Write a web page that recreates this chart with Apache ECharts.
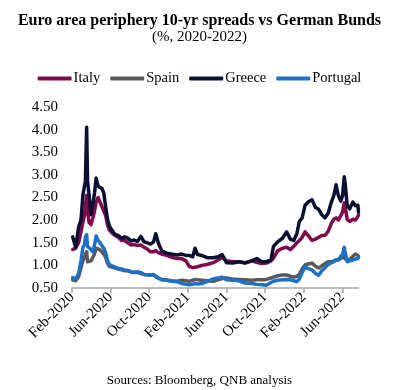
<!DOCTYPE html>
<html>
<head>
<meta charset="utf-8">
<script src="https://cdn.jsdelivr.net/npm/echarts@6/dist/echarts.min.js"></script>
<style>
html,body{margin:0;padding:0;background:#fff;}
#chart{width:399px;height:390px;}
</style>
</head>
<body>
<div id="chart"></div>
<script>
var dates = [
'2020-02-03','2020-02-12','2020-02-21','2020-02-28','2020-03-05','2020-03-10','2020-03-13','2020-03-17','2020-03-20','2020-03-25',
'2020-03-31','2020-04-06','2020-04-11','2020-04-16','2020-04-22','2020-04-28','2020-05-04','2020-05-10','2020-05-16','2020-05-22',
'2020-05-28','2020-06-05','2020-06-15','2020-06-25','2020-07-05','2020-07-15','2020-07-25','2020-08-05','2020-08-15','2020-08-25',
'2020-09-05','2020-09-15','2020-09-25','2020-10-05','2020-10-15','2020-10-22','2020-10-30','2020-11-10','2020-11-25','2020-12-10',
'2020-12-28','2021-01-12','2021-01-26','2021-02-05','2021-02-15','2021-02-22','2021-03-01','2021-03-15','2021-04-01','2021-04-20',
'2021-05-05','2021-05-18','2021-06-01','2021-06-20','2021-07-10','2021-07-30','2021-08-20','2021-09-05','2021-09-20','2021-10-05',
'2021-10-20','2021-10-28','2021-11-10','2021-11-25','2021-12-08','2021-12-20','2021-12-31','2022-01-10','2022-01-18','2022-01-27',
'2022-02-05','2022-02-14','2022-02-25','2022-03-08','2022-03-18','2022-03-28','2022-04-07','2022-04-17','2022-04-27','2022-05-05',
'2022-05-12','2022-05-19','2022-05-27','2022-06-02','2022-06-07','2022-06-10','2022-06-16','2022-06-24','2022-07-04','2022-07-12',
'2022-07-20','2022-07-22'
];
var italy = [
1.35,1.38,1.50,1.75,1.95,2.10,2.30,2.55,2.20,1.95,
1.90,2.05,2.20,2.40,2.50,2.40,2.30,2.30,2.10,1.90,
1.78,1.72,1.66,1.62,1.55,1.55,1.50,1.45,1.46,1.44,
1.45,1.40,1.36,1.30,1.30,1.33,1.28,1.25,1.22,1.18,
1.15,1.15,1.10,0.98,0.95,0.96,0.97,1.00,1.02,1.06,
1.12,1.18,1.10,1.08,1.08,1.06,1.10,1.07,1.04,1.05,
1.10,1.16,1.32,1.38,1.40,1.35,1.42,1.50,1.55,1.62,
1.74,1.66,1.55,1.58,1.62,1.66,1.66,1.75,1.93,2.02,
2.05,2.00,2.10,2.18,2.38,2.30,2.02,1.97,2.02,2.00,
2.08,2.12
];
var spain = [
0.68,0.66,0.75,0.95,1.10,1.10,1.25,1.30,1.08,1.05,
1.10,1.10,1.25,1.38,1.35,1.35,1.30,1.25,1.18,1.05,
0.98,0.96,0.94,0.92,0.90,0.88,0.88,0.85,0.84,0.84,
0.82,0.80,0.79,0.79,0.79,0.76,0.72,0.69,0.68,0.66,
0.65,0.67,0.66,0.65,0.67,0.69,0.68,0.67,0.66,0.65,
0.68,0.71,0.72,0.70,0.69,0.68,0.67,0.68,0.68,0.69,
0.72,0.74,0.77,0.79,0.79,0.76,0.74,0.76,0.80,0.92,
1.01,1.03,1.05,0.98,0.94,0.99,1.04,1.08,1.08,1.10,
1.12,1.12,1.15,1.18,1.20,1.14,1.12,1.13,1.20,1.25,
1.22,1.20
];
var greece = [
1.63,1.40,1.85,2.00,2.55,2.75,2.85,4.05,2.85,2.55,
2.12,2.35,2.60,2.93,2.75,2.78,2.70,2.60,2.30,2.02,
1.87,1.78,1.68,1.66,1.60,1.63,1.60,1.54,1.56,1.53,
1.64,1.52,1.50,1.47,1.52,1.70,1.50,1.32,1.27,1.25,
1.23,1.25,1.22,1.22,1.19,1.38,1.24,1.22,1.17,1.17,
1.19,1.24,1.06,1.05,1.08,1.05,1.10,1.15,1.08,1.08,
1.12,1.42,1.52,1.60,1.74,1.58,1.55,1.70,1.97,2.05,
2.33,2.40,2.45,2.28,2.24,2.12,2.05,2.15,2.40,2.55,
2.78,2.55,2.42,2.55,2.96,2.80,2.33,2.25,2.40,2.32,
2.33,2.18
];
var portugal = [
0.73,0.70,0.82,1.10,1.40,1.45,1.62,1.68,1.42,1.38,
1.35,1.30,1.45,1.65,1.55,1.50,1.48,1.38,1.28,1.10,
1.02,0.99,0.96,0.93,0.92,0.90,0.89,0.86,0.85,0.86,
0.84,0.80,0.79,0.79,0.80,0.75,0.72,0.68,0.67,0.65,
0.64,0.60,0.58,0.57,0.58,0.60,0.59,0.60,0.64,0.70,
0.72,0.74,0.68,0.67,0.66,0.61,0.60,0.58,0.57,0.56,
0.62,0.65,0.67,0.68,0.69,0.68,0.66,0.64,0.70,0.84,
0.96,0.93,0.90,0.82,0.78,0.88,0.95,1.02,1.06,1.08,
1.12,1.12,1.20,1.25,1.40,1.28,1.08,1.10,1.12,1.14,
1.15,1.18
];
var seriesNames = ['Italy','Spain','Greece','Portugal'];
var seriesColors = ['#7E0C4D','#595959','#0B1033','#1E6FC6'];
var monthNames = ['Jan','Feb','Mar','Apr','May','Jun','Jul','Aug','Sep','Oct','Nov','Dec'];
var yMin = 0.5, yMax = 4.5, yStep = 0.5;
var xTickMonths = [0,4,8,12,16,20,24,28];
var xEndDate = '2022-07-22';

// months since 1 Feb 2020 (fractional)
function monthPos(s){
  var p = s.split('-').map(Number);
  var dim = new Date(p[0], p[1], 0).getDate();
  return (p[0]-2020)*12 + (p[1]-1) - 1 + (p[2]-1)/dim;
}
function monthLabel(v){
  var idx = Math.round(v) + 1; // months since Jan 2020
  var y = 2020 + Math.floor(idx/12);
  return monthNames[idx%12] + '-' + y;
}
var allData = [italy, spain, greece, portugal];
var xs = dates.map(monthPos);
var font = 'Liberation Serif';

var chart = echarts.init(document.getElementById('chart'), null, {renderer:'canvas'});
chart.setOption({
  backgroundColor:'#fff',
  animation:false,
  title:[
    {text:'Euro area periphery 10-yr spreads vs German Bunds', left:'center', top:8,
     textStyle:{fontFamily:font, fontSize:16, fontWeight:'bold', color:'#000'}},
    {text:'(%, 2020-2022)', left:'center', top:25,
     textStyle:{fontFamily:font, fontSize:15, fontWeight:'normal', color:'#000'}},
    {text:'Sources: Bloomberg, QNB analysis', left:'center', top:369,
     textStyle:{fontFamily:font, fontSize:13, fontWeight:'normal', color:'#000'}}
  ],
  legend:{
    top:66, left:'center', icon:'roundRect', itemWidth:34, itemHeight:4, itemGap:10,
    textStyle:{fontFamily:font, fontSize:14.5, color:'#000', padding:[0,0,0,-3]},
    data:seriesNames
  },
  grid:{left:72, right:40.5, top:107, bottom:102, containLabel:false},
  xAxis:{
    type:'value', min:0, max:monthPos(xEndDate), interval:4,
    axisLine:{show:true, lineStyle:{color:'#a6a6a6', width:1.5}},
    axisTick:{show:true, length:5, lineStyle:{color:'#a6a6a6', width:1.5}, customValues:xTickMonths},
    axisLabel:{rotate:45, fontFamily:font, fontSize:15, color:'#000', margin:7,
      customValues:xTickMonths, formatter:function(v){return monthLabel(v);}},
    splitLine:{show:false}
  },
  yAxis:{
    type:'value', min:yMin, max:yMax, interval:yStep,
    axisLine:{show:false}, axisTick:{show:false}, splitLine:{show:false},
    axisLabel:{fontFamily:font, fontSize:15, color:'#000', margin:14,
      formatter:function(v){return v.toFixed(2);}}
  },
  series: seriesNames.map(function(n,i){
    return {
      name:n, type:'line', showSymbol:false, symbol:'none', color:seriesColors[i],
      lineStyle:{width:3.5, color:seriesColors[i], join:'round', cap:'round'},
      data: xs.map(function(x,j){return [x, allData[i][j]];})
    };
  })
});
</script>
</body>
</html>
